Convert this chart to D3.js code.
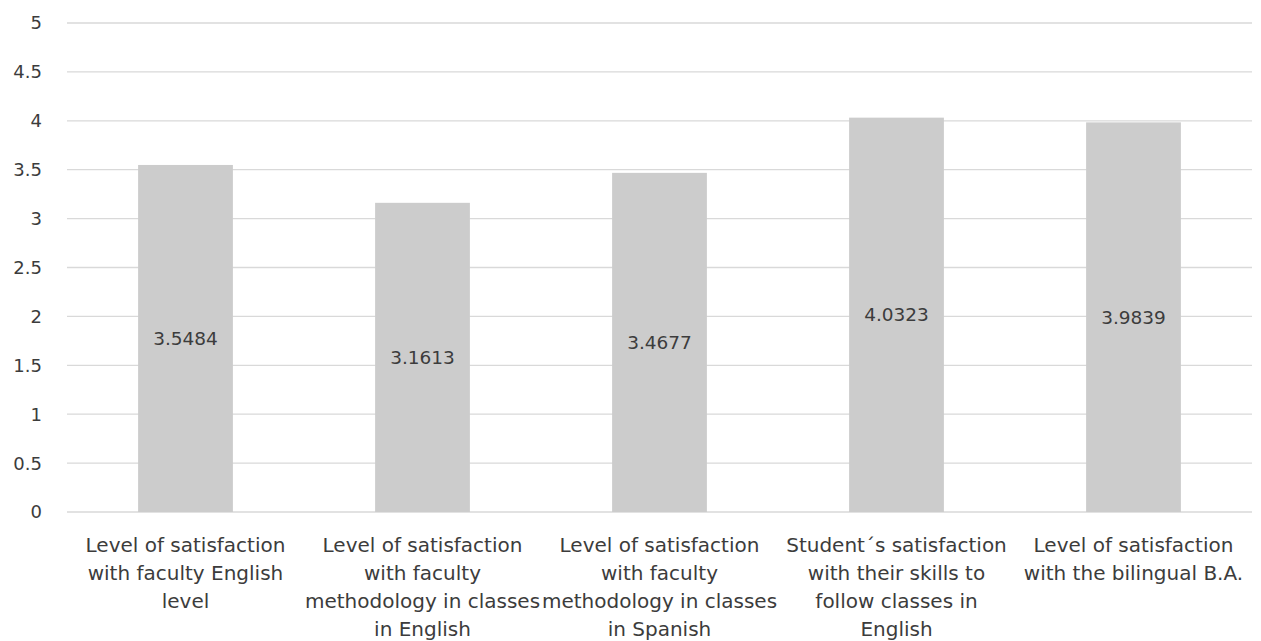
<!DOCTYPE html>
<html><head><meta charset="utf-8">
<script src="https://cdn.jsdelivr.net/npm/d3@7"></script>
<style>body{margin:0;background:#fff;} svg{display:block;}</style>
</head><body>
<svg id="chart" width="1261" height="641"></svg>
<script>
const categories = [
  ["Level of satisfaction","with faculty English","level"],
  ["Level of satisfaction","with faculty","methodology in classes","in English"],
  ["Level of satisfaction","with faculty","methodology in classes","in Spanish"],
  ["Student\u00b4s satisfaction","with their skills to","follow classes in","English"],
  ["Level of satisfaction","with the bilingual B.A."]
];
const values = [3.5484, 3.1613, 3.4677, 4.0323, 3.9839];
const yTicks = [0, 0.5, 1, 1.5, 2, 2.5, 3, 3.5, 4, 4.5, 5];

const svg = d3.select("#chart");
const mLeft = 67, mRight = 1252, mTop = 23, mBottom = 512;
const font = "'DejaVu Sans', sans-serif";
const textColor = "#3c3c3c";

const x = d3.scaleBand().domain(d3.range(values.length)).range([mLeft, mRight]).paddingInner(0.6).paddingOuter(0.3);
const y = d3.scaleLinear().domain([0, 5]).range([mBottom, mTop]);

// gridlines
svg.append("g").selectAll("line").data(yTicks).join("line")
  .attr("x1", mLeft).attr("x2", mRight)
  .attr("y1", d => y(d)).attr("y2", d => y(d))
  .attr("stroke", "#d9d9d9").attr("stroke-width", 1.3);

// y tick labels
svg.append("g").selectAll("text").data(yTicks).join("text")
  .attr("x", 42).attr("y", d => y(d)).attr("dy", "0.36em")
  .attr("text-anchor", "end").attr("font-family", font).attr("font-size", 18)
  .attr("fill", textColor).text(d => d);

// bars
svg.append("g").selectAll("rect").data(values).join("rect")
  .attr("x", (d, i) => x(i)).attr("width", x.bandwidth())
  .attr("y", d => y(d)).attr("height", d => y(0) - y(d))
  .attr("fill", "#cccccc");

// value labels
svg.append("g").selectAll("text").data(values).join("text")
  .attr("x", (d, i) => x(i) + x.bandwidth() / 2)
  .attr("y", d => (y(d) + y(0)) / 2).attr("dy", "0.36em")
  .attr("text-anchor", "middle").attr("font-family", font).attr("font-size", 18.5)
  .attr("fill", textColor).text(d => d.toFixed(4));

// category labels
const cg = svg.append("g").selectAll("text").data(categories).join("text")
  .attr("x", (d, i) => x(i) + x.bandwidth() / 2)
  .attr("y", 552)
  .attr("text-anchor", "middle").attr("font-family", font).attr("font-size", 20)
  .attr("fill", textColor);
cg.selectAll("tspan").data(d => d).join("tspan")
  .attr("x", function() { return d3.select(this.parentNode).attr("x"); })
  .attr("dy", (d, i) => i === 0 ? 0 : 28)
  .text(d => d);
</script>
</body></html>
